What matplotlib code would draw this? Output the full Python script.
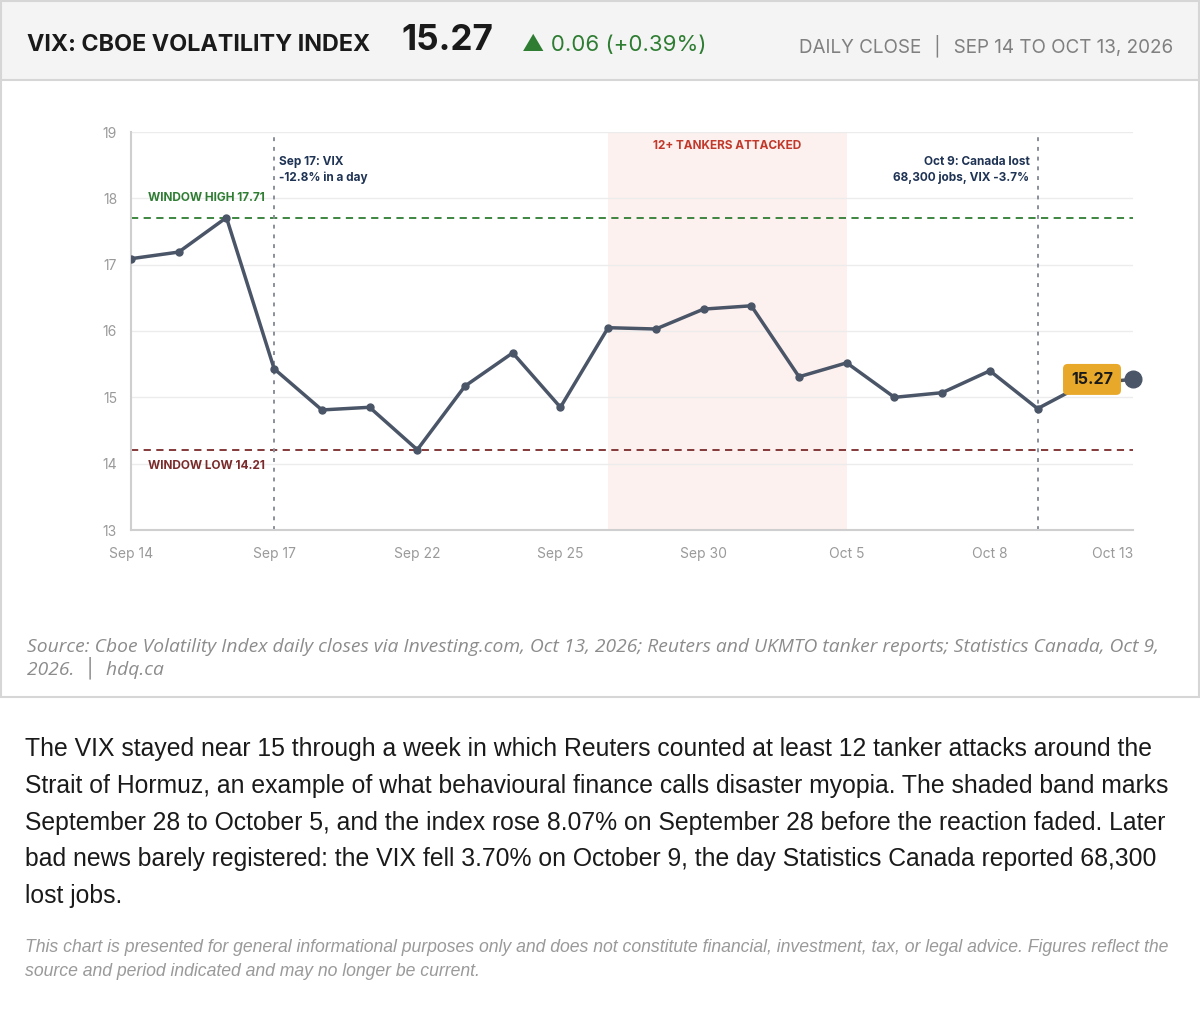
import matplotlib.pyplot as plt
from matplotlib.patches import Rectangle

# ---- data ----
dias = ["Sep 14", "Sep 15", "Sep 16", "Sep 17", "Sep 18", "Sep 21", "Sep 22", "Sep 23",
        "Sep 24", "Sep 25", "Sep 28", "Sep 29", "Sep 30", "Oct 1", "Oct 2", "Oct 5",
        "Oct 6", "Oct 7", "Oct 8", "Oct 9", "Oct 12", "Oct 13"]
vix = [17.09, 17.19, 17.71, 15.43, 14.81, 14.85, 14.21, 15.17, 15.67, 14.85, 16.05,
       16.03, 16.33, 16.38, 15.31, 15.52, 15.00, 15.07, 15.40, 14.83, 15.21, 15.27]
rotulos_x = ["Sep 14", "Sep 17", "Sep 22", "Sep 25", "Sep 30", "Oct 5", "Oct 8", "Oct 13"]
y_ticks = [13, 14, 15, 16, 17, 18, 19]
janela_alta = 17.71
janela_baixa = 14.21
faixa = ("Sep 28", "Oct 5")
eventos = ["Sep 17", "Oct 9"]

idx = list(range(len(dias)))
pos = {d: i for i, d in enumerate(dias)}

W, H = 1200, 1024
fig = plt.figure(figsize=(W / 100, H / 100), dpi=100)
fig.patch.set_facecolor("white")

def fx(px):
    return px / W

def fy(py):
    return 1 - py / H

# ---- moldura / cabeçalho ----
fig.patches.append(Rectangle((fx(1), fy(697)), fx(1198), 696 / H, transform=fig.transFigure,
                             facecolor="white", edgecolor="#d6d6d6", lw=1.5, zorder=-2))
fig.patches.append(Rectangle((fx(1), fy(80)), fx(1198), 79 / H, transform=fig.transFigure,
                             facecolor="#f4f4f4", edgecolor="#d6d6d6", lw=1.5, zorder=-1))

fig.text(fx(27), fy(45), "VIX: CBOE VOLATILITY INDEX", fontsize=16.8, fontweight="bold",
         family="Inter", color="#1a1a1a", va="center")
fig.text(fx(401), fy(41), "15.27", fontsize=25.3, fontweight="bold", family="Inter",
         color="#1a1a1a", va="center")
fig.text(fx(522), fy(45), "\u25B2 0.06 (+0.39%)", fontsize=16, family=["Inter", "DejaVu Sans"],
         color="#2e7d32", va="center")
fig.text(fx(1173), fy(46), "DAILY CLOSE  \u2502  SEP 14 TO OCT 13, 2026", fontsize=13.6,
         family=["Inter", "DejaVu Sans"], color="#808080", va="center", ha="right")

# ---- gráfico ----
ax = fig.add_axes([fx(131), fy(530), fx(1133 - 131), (530 - 132) / H])
ax.set_zorder(2)
ax.set_xlim(0, len(dias) - 1)
ax.set_ylim(13, 19)
ax.set_facecolor("white")

ax.axvspan(pos[faixa[0]], pos[faixa[1]], color="#fdf1ef", zorder=0, lw=0)
for y in y_ticks:
    ax.axhline(y, color="#ececec", lw=1, zorder=0.5)

ax.axhline(janela_alta, color="#2e7d32", ls=(0, (4, 3)), lw=1.3, zorder=1)
ax.axhline(janela_baixa, color="#7a2a2a", ls=(0, (4, 3)), lw=1.3, zorder=1)
for ev in eventos:
    ax.axvline(pos[ev], color="#8a8f9c", ls=(0, (2, 3)), lw=1.4, zorder=1)

ax.plot(idx, vix, color="#4a5568", lw=2.5, marker="o", ms=5, zorder=3,
        solid_joinstyle="round")
ax.plot(idx[-1], vix[-1], "o", color="#4a5568", ms=12, zorder=4, clip_on=False)
ax.annotate(f"{vix[-1]:.2f}", (idx[-1], vix[-1]), xytext=(-41, 0), textcoords="offset pixels",
            ha="center", va="center", fontsize=11.5, fontweight="bold", family="Inter",
            color="#1a1a1a", zorder=5,
            bbox=dict(boxstyle="round,pad=0.5,rounding_size=0.3", fc="#e8a92a", ec="none"))

ax.set_yticks(y_ticks)
ax.set_xticks([pos[d] for d in rotulos_x])
ax.set_xticklabels(rotulos_x)
ax.tick_params(length=0, labelsize=10, labelcolor="#9a9a9a", pad=12)
ax.tick_params(axis="y", pad=10)
for lab in ax.get_xticklabels() + ax.get_yticklabels():
    lab.set_family("Inter")
ax.get_xticklabels()[-1].set_horizontalalignment("right")
for s in ["top", "right"]:
    ax.spines[s].set_visible(False)
for s in ["left", "bottom"]:
    ax.spines[s].set_color("#cfcfcf")
    ax.spines[s].set_linewidth(1.5)

# anotações
ax.text(0.35, janela_alta + 0.3, f"WINDOW HIGH {janela_alta:.2f}", fontsize=8.5,
        fontweight="bold", family="Inter", color="#2e7d32", va="center")
ax.text(0.35, janela_baixa - 0.25, f"WINDOW LOW {janela_baixa:.2f}", fontsize=8.5,
        fontweight="bold", family="Inter", color="#7a2a2a", va="center")
ax.text(pos["Sep 17"] + 0.1, 18.64, "Sep 17: VIX\n-12.8% in a day", fontsize=8.5,
        fontweight="bold", family="Inter", color="#1f3354", va="top", linespacing=1.35)
ax.text(pos["Oct 9"] - 0.17, 18.64, "Oct 9: Canada lost\n68,300 jobs, VIX -3.7%", fontsize=8.5,
        fontweight="bold", family="Inter", color="#1f3354", va="top", ha="right",
        linespacing=1.35)
ax.text((pos[faixa[0]] + pos[faixa[1]]) / 2, 18.79, "12+ TANKERS ATTACKED", fontsize=8.5,
        fontweight="bold", family="Inter", color="#c0392b", va="center", ha="center")

# ---- fonte ----
fig.text(fx(27), fy(647), "Source: Cboe Volatility Index daily closes via Investing.com, Oct 13, 2026; "
         "Reuters and UKMTO tanker reports; Statistics Canada, Oct 9,", fontsize=13.9,
         style="italic", family="Open Sans", color="#8c8c8c", va="center")
fig.text(fx(27), fy(668), "2026.  \u2502  hdq.ca", fontsize=13.9, style="italic",
         family=["Open Sans", "DejaVu Sans"], color="#8c8c8c", va="center")

# ---- texto ----
paragrafo = [
    "The VIX stayed near 15 through a week in which Reuters counted at least 12 tanker attacks around the",
    "Strait of Hormuz, an example of what behavioural finance calls disaster myopia. The shaded band marks",
    "September 28 to October 5, and the index rose 8.07% on September 28 before the reaction faded. Later",
    "bad news barely registered: the VIX fell 3.70% on October 9, the day Statistics Canada reported 68,300",
    "lost jobs.",
]
for i, linha in enumerate(paragrafo):
    fig.text(fx(25), fy(749 + 36.8 * i), linha, fontsize=17.8, family="Liberation Sans",
             color="#1a1a1a", va="center")

aviso = [
    "This chart is presented for general informational purposes only and does not constitute financial, "
    "investment, tax, or legal advice. Figures reflect the",
    "source and period indicated and may no longer be current.",
]
for i, linha in enumerate(aviso):
    fig.text(fx(25), fy(947 + 25 * i), linha, fontsize=12.7, style="italic",
             family="Liberation Sans", color="#9a9a9a", va="center")

fig.savefig("out.png", dpi=100)
